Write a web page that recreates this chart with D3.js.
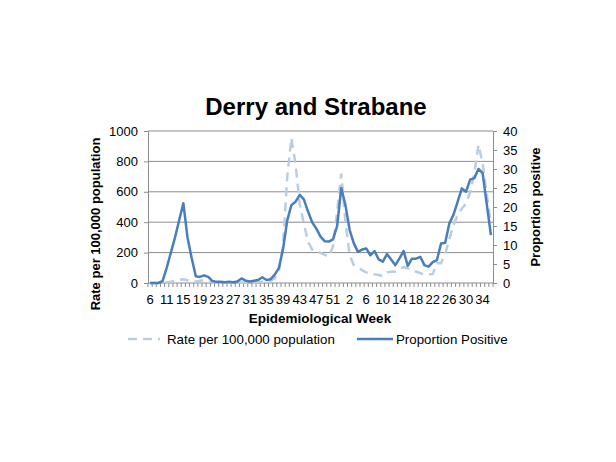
<!DOCTYPE html>
<html>
<head>
<meta charset="utf-8">
<script src="https://cdn.jsdelivr.net/npm/d3@7"></script>
<style>
  body { margin: 0; background: #fff; }
  text { font-family: "Liberation Sans", Arial, sans-serif; fill: #000; }
</style>
</head>
<body>
<svg id="chart" width="616" height="462"></svg>
<script>
// Epidemiological weeks (2020 week 6 .. 2021 week 36)
const weeks = [6, 8, 9, 10, 11, 12, 13, 14, 15, 16, 17, 18, 19, 20, 21, 22, 23, 24, 25, 26, 27, 28, 29, 30,
  31, 32, 33, 34, 35, 36, 37, 38, 39, 40, 41, 42, 43, 44, 45, 46, 47, 48, 49, 50, 51, 52, 53,
  1, 2, 3, 4, 5, 6, 7, 8, 9, 10, 11, 12, 13, 14, 15, 16, 17, 18, 19, 20, 21, 22, 23, 24, 25,
  26, 27, 28, 29, 30, 31, 32, 33, 34, 35, 36];

// Rate per 100,000 population (left axis)
const rate = [0, 0, 0, 0, 3, 8, 15, 20, 25, 18, 10, 10, 15, 18, 10, 5, 3, 3, 3, 3, 3, 3, 3, 3,
  3, 3, 5, 8, 8, 15, 30, 80, 250, 700, 955, 780, 520, 390, 272, 220, 205, 198, 185, 175, 240, 470, 720,
  400, 185, 118, 100, 85, 70, 62, 57, 53, 45, 70, 74, 75, 90, 105, 96, 78, 75, 65, 55, 55, 60, 130, 130,
  190, 290, 380, 450, 490, 520, 600, 720, 910, 790, 580, 390];

// Proportion positive (right axis)
const positive = [0, 0, 0, 0.5, 4, 8, 12, 16.5, 21, 12, 6.6, 1.8, 1.6, 2, 1.6, 0.5, 0.3, 0.3, 0.2, 0.3, 0.2, 0.4, 1.2, 0.6,
  0.4, 0.6, 0.8, 1.5, 0.8, 1, 2.2, 4, 9, 16.5, 20.5, 21.4, 23.2, 22, 18.8, 16, 14.3, 12.2, 11, 10.9, 11.5, 15, 25,
  20.5, 14, 10.5, 8.2, 8.8, 9.1, 7.3, 8.4, 6.2, 5.6, 7.6, 6.2, 4.7, 6.5, 8.4, 4.5, 6.4, 6.4, 6.9, 4.7, 4.3, 5.5, 6, 10.4,
  10.6, 15.7, 18, 21.4, 24.9, 24, 27.2, 27.6, 30, 28.9, 20.7, 12.6];

const leftTicks = [0, 200, 400, 600, 800, 1000];
const rightTicks = [0, 5, 10, 15, 20, 25, 30, 35, 40];

const svg = d3.select("#chart");
const plotLeft = 148, plotRight = 493, plotTop = 131, plotBottom = 283;

let idx = d3.range(weeks.length);

let x = d3.scaleBand()
  .domain(idx)
  .range([plotLeft, plotRight])
  .padding(0);

let yL = d3.scaleLinear().domain([0, 1000]).range([plotBottom, plotTop]);
let yR = d3.scaleLinear().domain([0, 40]).range([plotBottom, plotTop]);

// gridlines
svg.append("g")
  .selectAll("line")
  .data(leftTicks.slice(1))
  .join("line")
  .attr("x1", plotLeft).attr("x2", plotRight)
  .attr("y1", d => yL(d)).attr("y2", d => yL(d))
  .attr("stroke", "#8c8c8c")
  .attr("stroke-width", 1);

// left axis
let axL = svg.append("g")
  .attr("transform", `translate(${plotLeft},0)`)
  .call(d3.axisLeft(yL).tickValues(leftTicks).tickFormat(d3.format("d")).tickSize(4).tickPadding(6));
axL.select(".domain").attr("stroke", "#8c8c8c");
axL.selectAll(".tick line").attr("stroke", "#8c8c8c");
axL.selectAll("text").style("font-size", "13px").attr("font-family", null);

// right axis
let axR = svg.append("g")
  .attr("transform", `translate(${plotRight},0)`)
  .call(d3.axisRight(yR).tickValues(rightTicks).tickSize(4).tickPadding(6));
axR.select(".domain").attr("stroke", "#8c8c8c");
axR.selectAll(".tick line").attr("stroke", "#8c8c8c");
axR.selectAll("text").style("font-size", "13px").attr("font-family", null);

// x axis line + category ticks
svg.append("line")
  .attr("x1", plotLeft).attr("x2", plotRight)
  .attr("y1", plotBottom).attr("y2", plotBottom)
  .attr("stroke", "#8c8c8c");

svg.append("g")
  .selectAll("line")
  .data(idx.concat([weeks.length]))
  .join("line")
  .attr("x1", d => d < weeks.length ? x(d) : plotRight)
  .attr("x2", d => d < weeks.length ? x(d) : plotRight)
  .attr("y1", plotBottom).attr("y2", plotBottom + 4)
  .attr("stroke", "#8c8c8c");

svg.append("g")
  .selectAll("text")
  .data(idx.filter(i => i % 4 == 0))
  .join("text")
  .attr("x", d => x(d) + x.bandwidth() / 2)
  .attr("y", 304)
  .attr("text-anchor", "middle")
  .style("font-size", "13px")
  .text(d => weeks[d]);

// lines
let lineRate = d3.line()
  .x((d, i) => x(i) + x.bandwidth() / 2)
  .y(d => yL(d));

let linePos = d3.line()
  .x((d, i) => x(i) + x.bandwidth() / 2)
  .y(d => yR(d));

svg.append("path")
  .datum(rate)
  .attr("d", lineRate)
  .attr("fill", "none")
  .attr("stroke", "#b9cde5")
  .attr("stroke-width", 2.5)
  .attr("stroke-dasharray", "9,6");

svg.append("path")
  .datum(positive)
  .attr("d", linePos)
  .attr("fill", "none")
  .attr("stroke", "#4a7ebb")
  .attr("stroke-width", 2.5)
  .attr("stroke-linejoin", "round");

// title
svg.append("text")
  .attr("x", 316)
  .attr("y", 115)
  .attr("text-anchor", "middle")
  .style("font-size", "24px")
  .style("font-weight", "bold")
  .text("Derry and Strabane");

// axis titles
svg.append("text")
  .attr("transform", "translate(100,224) rotate(-90)")
  .attr("text-anchor", "middle")
  .style("font-size", "13px")
  .style("font-weight", "bold")
  .text("Rate per 100,000 population");

svg.append("text")
  .attr("transform", "translate(540,207) rotate(-90)")
  .attr("text-anchor", "middle")
  .style("font-size", "13px")
  .style("font-weight", "bold")
  .text("Proportion positive");

svg.append("text")
  .attr("x", 320)
  .attr("y", 323)
  .attr("text-anchor", "middle")
  .style("font-size", "13.5px")
  .style("font-weight", "bold")
  .text("Epidemiological Week");

// legend
let legend = svg.append("g");
legend.append("line")
  .attr("x1", 128).attr("x2", 160)
  .attr("y1", 339).attr("y2", 339)
  .attr("stroke", "#b9cde5")
  .attr("stroke-width", 2.5)
  .attr("stroke-dasharray", "9,6");
legend.append("text")
  .attr("x", 167).attr("y", 344)
  .style("font-size", "13.3px")
  .text("Rate per 100,000 population");
legend.append("line")
  .attr("x1", 357).attr("x2", 393)
  .attr("y1", 339).attr("y2", 339)
  .attr("stroke", "#4a7ebb")
  .attr("stroke-width", 2.5);
legend.append("text")
  .attr("x", 396).attr("y", 344)
  .style("font-size", "13.3px")
  .text("Proportion Positive");
</script>
</body>
</html>
